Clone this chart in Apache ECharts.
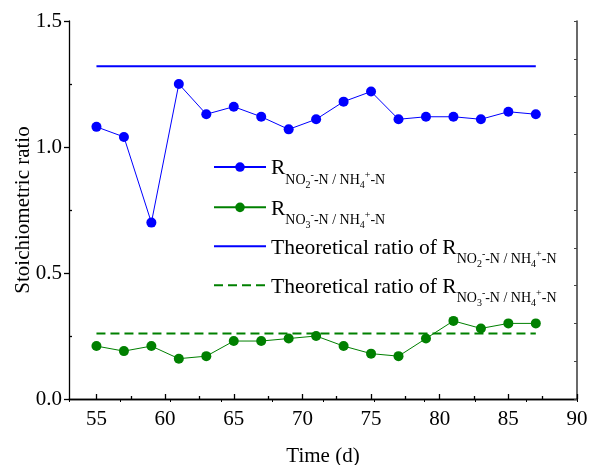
<!DOCTYPE html>
<html>
<head>
<meta charset="utf-8">
<script src="https://cdn.jsdelivr.net/npm/echarts@6/dist/echarts.min.js"></script>
<style>
  html, body { margin: 0; padding: 0; background: #fff; }
  #chart { width: 590px; height: 465px; }
</style>
</head>
<body>
<div id="chart"></div>
<script>
// data
var days = [55, 57, 59, 61, 63, 65, 67, 69, 71, 73, 75, 77, 79, 81, 83, 85, 87];
var no2Ratio = [1.08, 1.04, 0.70, 1.25, 1.13, 1.16, 1.12, 1.07, 1.11, 1.18, 1.22, 1.11, 1.12, 1.12, 1.11, 1.14, 1.13];
var no3Ratio = [0.21, 0.19, 0.21, 0.16, 0.17, 0.23, 0.23, 0.24, 0.25, 0.21, 0.18, 0.17, 0.24, 0.31, 0.28, 0.30, 0.30];
var theoryNO2 = 1.32;
var theoryNO3 = 0.26;

var xTicks = [55, 60, 65, 70, 75, 80, 85, 90];
var xMinorTicks = [57.5, 62.5, 67.5, 72.5, 77.5, 82.5, 87.5];
var yMinorTicks = [0.25, 0.75, 1.25];

var FONT = "'Liberation Serif', 'Times New Roman', serif";
var SHIFT = 13.6;

function pairs(vals) {
    return days.map(function (d, i) { return [d, vals[i]]; });
}
function flat(v) {
    return [[days[0], v], [days[days.length - 1], v]];
}

var ratioNO2 = '{sub|NO}{ss|2}{sup|-}{sub|-N / NH}{ss|4}{sup|+}{sub|-N}';
var ratioNO3 = '{sub|NO}{ss|3}{sup|-}{sub|-N / NH}{ss|4}{sup|+}{sub|-N}';
var legendText = {
    no2: '{r|R}' + ratioNO2,
    no3: '{r|R}' + ratioNO3,
    thNo2: '{r|Theoretical ratio of R}' + ratioNO2,
    thNo3: '{r|Theoretical ratio of R}' + ratioNO3
};

function legendAt(item, top) {
    return {
        data: [item],
        left: 213,
        top: top,
        padding: 0,
        itemWidth: 52,
        itemHeight: 12,
        selectedMode: false,
        formatter: function (n) { return legendText[n]; },
        textStyle: {
            fontFamily: FONT,
            color: '#000',
            rich: {
                r: { fontFamily: FONT, fontSize: 21.5, color: '#000', verticalAlign: 'top', padding: [SHIFT, 0, 0, 0] },
                sub: { fontFamily: FONT, fontSize: 14, color: '#000', verticalAlign: 'top', padding: [15.6 + SHIFT, 0, 0, 0] },
                ss: { fontFamily: FONT, fontSize: 10, color: '#000', verticalAlign: 'top', padding: [22.25 + SHIFT, 0, 0, 0] },
                sup: { fontFamily: FONT, fontSize: 10, color: '#000', verticalAlign: 'top', padding: [12.25 + SHIFT, 0, 0, 0] }
            }
        }
    };
}

var black = { color: '#000', width: 1.3 };
var tickFont = { t: { fontFamily: FONT, fontSize: 21, color: '#000' } };

var chart = echarts.init(document.getElementById('chart'));
chart.setOption({
    animation: false,
    backgroundColor: '#fff',
    textStyle: { fontFamily: FONT },
    grid: { left: 69, right: 13, top: 21, bottom: 66, outerBoundsMode: 'none' },
    legend: [
        legendAt('no2', 157.7),
        legendAt('no3', 198),
        legendAt({ name: 'thNo2', itemStyle: { opacity: 0 } }, 237),
        legendAt({ name: 'thNo3', itemStyle: { opacity: 0 } }, 276)
    ],
    xAxis: [{
        type: 'value', min: 53, max: 90, position: 'bottom',
        axisLine: { show: true, lineStyle: black },
        axisTick: { show: true, inside: true, length: 5, customValues: xTicks, lineStyle: black },
        axisLabel: {
            customValues: xTicks, margin: 10, rich: tickFont,
            formatter: function (v) { return '{t|' + v + '}'; }
        },
        splitLine: { show: false },
        name: 'Time (d)', nameLocation: 'middle', nameGap: 47, nameMoveOverlap: false,
        nameTextStyle: { fontFamily: FONT, fontSize: 21, color: '#000' }
    }, {
        type: 'value', min: 53, max: 90, position: 'bottom',
        axisLine: { show: false },
        axisTick: { show: true, inside: true, length: 3, customValues: xMinorTicks, lineStyle: black },
        axisLabel: { show: false },
        splitLine: { show: false }
    }, {
        type: 'value', min: 0, max: 10, interval: 1, position: 'top',
        axisLine: { show: true, lineStyle: black },
        axisTick: { show: true, inside: true, length: 3, lineStyle: { color: '#000', width: 1 } },
        axisLabel: { show: false },
        splitLine: { show: false }
    }],
    yAxis: [{
        type: 'value', min: 0, max: 1.5, interval: 0.5, position: 'left',
        axisLine: { show: true, lineStyle: black },
        axisTick: { show: true, inside: false, length: 5, lineStyle: black },
        axisLabel: {
            margin: 7, rich: tickFont,
            formatter: function (v) { return '{t|' + v.toFixed(1) + '}'; }
        },
        splitLine: { show: false },
        name: 'Stoichiometric ratio', nameLocation: 'middle', nameGap: 35, nameRotate: 90,
        nameMoveOverlap: false,
        nameTextStyle: { fontFamily: FONT, fontSize: 21, color: '#000' }
    }, {
        type: 'value', min: 0, max: 1.5, position: 'left',
        axisLine: { show: false },
        axisTick: { show: true, inside: true, length: 3, customValues: yMinorTicks, lineStyle: black },
        axisLabel: { show: false },
        splitLine: { show: false }
    }, {
        type: 'value', min: 0, max: 10, interval: 1, position: 'right',
        axisLine: { show: true, lineStyle: { color: '#444', width: 1.6 } },
        axisTick: { show: true, inside: true, length: 3, lineStyle: { color: '#444', width: 1 } },
        axisLabel: { show: false },
        splitLine: { show: false }
    }],
    series: [{
        name: 'no2', type: 'line', data: pairs(no2Ratio),
        symbol: 'circle', symbolSize: 10,
        itemStyle: { color: '#0000ff' },
        lineStyle: { color: '#0000ff', width: 1 }
    }, {
        name: 'no3', type: 'line', data: pairs(no3Ratio),
        symbol: 'circle', symbolSize: 10,
        itemStyle: { color: '#008000' },
        lineStyle: { color: '#008000', width: 1 }
    }, {
        name: 'thNo2', type: 'line', data: flat(theoryNO2),
        symbol: 'none',
        itemStyle: { color: '#0000ff' },
        lineStyle: { color: '#0000ff', width: 2 }
    }, {
        name: 'thNo3', type: 'line', data: flat(theoryNO3),
        symbol: 'none',
        itemStyle: { color: '#008000' },
        lineStyle: { color: '#008000', width: 2, type: [9, 5] }
    }]
});
</script>
</body>
</html>
